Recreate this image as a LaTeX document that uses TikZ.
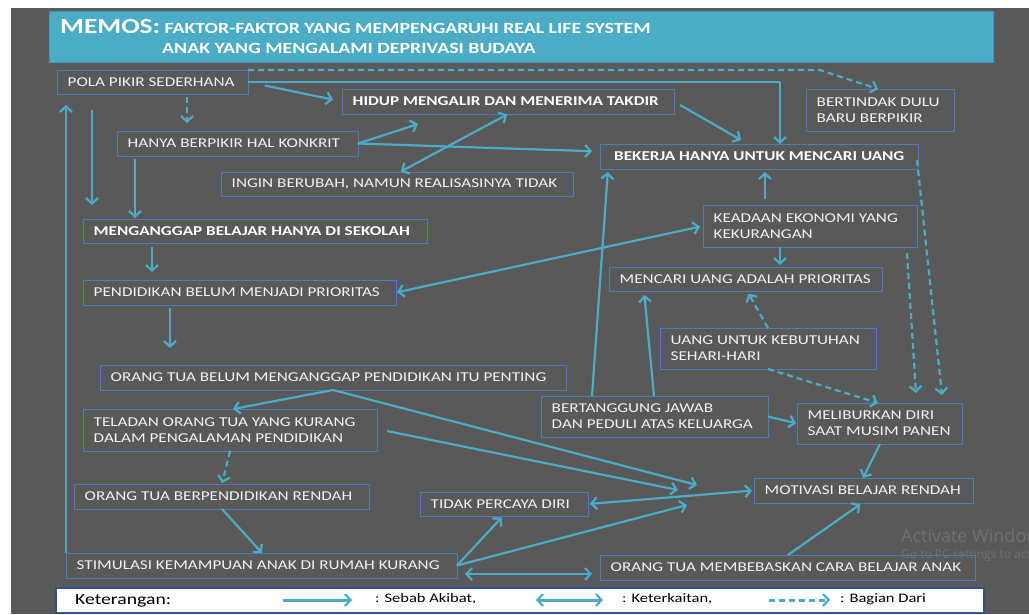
\documentclass[tikz,border=0pt]{standalone}
\usepackage{fontspec}
\setmainfont{Carlito}[FakeStretch=1.27]
\newfontfamily\wmfont{Open Sans}
\usetikzlibrary{arrows.meta,calc}

\definecolor{slate}{HTML}{595959}
\definecolor{aqua}{HTML}{4BACC6}
\definecolor{frame}{HTML}{4A7EBB}
\definecolor{ink}{HTML}{F2F2F2}
\definecolor{legendframe}{HTML}{2F528F}
\definecolor{ghost}{HTML}{717171}

\tikzset{
  boxframe/.style={draw=frame, line width=1pt, inner sep=0pt, outer sep=0pt},
  boxtext/.style={text=ink, inner sep=0pt, align=left,
    font=\fontsize{13.5}{16}\selectfont},
  boldtext/.style={boxtext, text=white,
    font=\fontsize{13.5}{16}\selectfont\bfseries},
  tipb/.tip={Straight Barb[length=5.5pt,width=12pt,line width=2.2pt]},
  link/.style={draw=aqua, line width=2.2pt, line join=round, -tipb},
  twoway/.style={draw=aqua, line width=2.2pt, line join=round, tipb-tipb},
  partof/.style={link, dash pattern=on 6pt off 4pt},
  legtext/.style={anchor=west, inner sep=0pt, text=black,
    font=\fontsize{13}{15}\selectfont},
}

% box: name, left, top, right, bottom, text style, text
\newcommand\memobox[7]{%
  \node[boxframe, minimum width={(#4)-(#2)}, minimum height={(#5)-(#3)},
        anchor=north west] (#1) at (#2,#3) {};
  \node[#6, anchor=west] (#1-t) at ([xshift=10.5pt]#1.west) {#7};}

\begin{document}
\begin{tikzpicture}[x=1pt,y=-1pt]
\useasboundingbox (0,0) rectangle (1029,614);
\fill[white] (0,0) rectangle (1029,614);
\fill[slate] (11,8) rectangle (1029,614);

% heading bar
\node[draw=frame!60!aqua, line width=1pt, fill=aqua, inner sep=0pt,
      minimum width=944pt, minimum height=51pt, anchor=north west]
      (title) at (49,11) {};
\node[anchor=base west, inner sep=0pt, text=white] (title-a) at (60,33)
  {\fontsize{21.5}{22}\selectfont\bfseries MEMOS:\fontsize{15.6}{17}\selectfont\ FAKTOR-FAKTOR YANG MEMPENGARUHI REAL LIFE SYSTEM};
\node[anchor=base west, inner sep=0pt, text=white] (title-b) at (162,53)
  {\fontsize{15.6}{17}\selectfont\bfseries ANAK YANG MENGALAMI DEPRIVASI BUDAYA};

% boxes
\memobox{pola}{57}{70}{248}{94}{boxtext}{POLA PIKIR SEDERHANA}
\memobox{hidup}{342}{89}{674}{114}{boldtext}{HIDUP MENGALIR DAN MENERIMA TAKDIR}
\memobox{hanya}{117}{131}{358}{156}{boxtext}{HANYA BERPIKIR HAL KONKRIT}
\memobox{ingin}{221}{172}{573}{196}{boxtext}{INGIN BERUBAH, NAMUN REALISASINYA TIDAK}
\memobox{bekerja}{600}{144}{918}{169}{boldtext, xshift=3.5pt}{BEKERJA HANYA UNTUK  MENCARI UANG}
\memobox{bertindak}{806}{89}{954}{131}{boxtext}{BERTINDAK DULU\\BARU BERPIKIR}
\memobox{anggap}{83}{219}{427}{243}{boldtext}{MENGANGGAP BELAJAR HANYA DI SEKOLAH}
\memobox{prioritas}{83}{280}{396}{305}{boxtext}{PENDIDIKAN BELUM MENJADI PRIORITAS}
\memobox{otbelum}{100}{365}{566}{390}{boxtext}{ORANG TUA BELUM MENGANGGAP PENDIDIKAN ITU PENTING}
\memobox{ekonomi}{703}{205}{917}{247}{boxtext}{KEADAAN EKONOMI  YANG\\KEKURANGAN}
\memobox{uangprio}{609}{267}{882}{291}{boxtext}{MENCARI UANG ADALAH PRIORITAS}
\memobox{harian}{660}{328}{876}{369}{boxtext}{UANG UNTUK KEBUTUHAN\\SEHARI-HARI}
\memobox{jawab}{541}{396}{768}{437}{boxtext}{BERTANGGUNG JAWAB\\DAN PEDULI ATAS KELUARGA}
\memobox{libur}{797}{403}{962}{444}{boxtext}{MELIBURKAN DIRI\\SAAT MUSIM PANEN}
\memobox{motivasi}{754}{478}{973}{503}{boxtext}{MOTIVASI BELAJAR RENDAH}
\memobox{percaya}{420}{492}{588}{516}{boxtext}{TIDAK PERCAYA DIRI}
\memobox{bebas}{600}{555}{975}{580}{boxtext}{ORANG TUA MEMBEBASKAN CARA BELAJAR ANAK}
\memobox{teladan}{83}{409}{377}{451}{boxtext}{TELADAN ORANG TUA YANG KURANG\\DALAM PENGALAMAN PENDIDIKAN}
\memobox{rendah}{74}{484}{369}{509}{boxtext}{ORANG TUA BERPENDIDIKAN  RENDAH}
\memobox{stimulasi}{66}{553}{457}{578}{boxtext}{STIMULASI KEMAMPUAN ANAK DI RUMAH KURANG}

% connectors: top group
\draw[link, shorten <=17pt, shorten >=9pt] (pola.east) -- (hidup.west);
\draw[link] (pola.east) -| ([xshift=21pt]bekerja.north);
\draw[partof] (pola.north east) -- ($(pola.north east -| bertindak.north)+(-60,0)$)
  -- ([xshift=-2pt]bertindak.north);
\draw[partof, shorten <=3pt, shorten >=8pt] ([xshift=34.5pt]pola.south) -- ([xshift=-50.5pt]hanya.north);
\draw[link, shorten >=11pt] (stimulasi.north west) -- ([xshift=9pt]pola.south west);
\draw[link, shorten <=16pt, shorten >=14pt] ([xshift=35pt]pola.south west) -- ([xshift=9pt]anggap.north west);
\draw[link, shorten <=3pt, shorten >=1pt] ([xshift=18pt]hanya.south west) -- ([xshift=52pt]anggap.north west);
\draw[link] (hanya.east) -- ($(hidup.south west)+(76,10)$);
\draw[link, shorten >=8pt] (hanya.east) -- ($(bekerja.west)+(0,-5)$);
\draw[twoway, shorten <=1pt, shorten >=1pt] ([xshift=179pt]ingin.north west) -- ([xshift=166pt]hidup.south west);
\draw[link, shorten <=7pt, shorten >=8pt] (hidup.east) -- ([xshift=148pt]bekerja.north west);
\draw[link, shorten <=6pt, shorten >=3pt] ([xshift=62pt]ekonomi.north west) -- ([xshift=165pt]bekerja.south west);
\draw[link, shorten >=3pt] ([xshift=51pt]jawab.north west) -- ([xshift=8pt]bekerja.south west);
\draw[link, shorten >=4pt] ([xshift=113pt]jawab.north west) -- ([xshift=35pt]uangprio.south west);
\draw[partof, shorten >=3pt] ([xshift=108pt]harian.north west) -- ([xshift=138pt]uangprio.south west);
\draw[link, shorten >=2pt] ([xshift=77pt]ekonomi.south west) -- ([xshift=171pt]uangprio.north west);
\draw[twoway, shorten <=1pt, shorten >=3pt] (prioritas.east) -- (ekonomi.west);

% connectors: left column
\draw[link, shorten <=4pt, shorten >=8pt] ([xshift=69pt]anggap.south west) -- ([xshift=69pt]prioritas.north west);
\draw[link, shorten <=3pt, shorten >=17pt] ([xshift=87pt]prioritas.south west) -- ([xshift=70pt]otbelum.north west);
\draw[link] ([xshift=233pt]otbelum.south west) -- ([xshift=150pt]teladan.north west);
\draw[link] ([xshift=233pt]otbelum.south west) -- ($(motivasi.south west)+(-57,-18)$);
\draw[link] ($(teladan.east)+(10,1)$) -- ($(motivasi.south west)+(-76,-13)$);
\draw[partof, shorten >=1pt] ([xshift=147pt]teladan.south west) -- ([xshift=148pt]rendah.north west);
\draw[link] ([xshift=148pt]rendah.south west) -- ([xshift=196pt]stimulasi.north west);

% connectors: bottom group
\draw[link, shorten >=2pt] (stimulasi.east) -- ([xshift=83pt]percaya.south west);
\draw[link] (stimulasi.east) -- ($(motivasi.south west)+(-67,2)$);
\draw[twoway] ($(stimulasi.south east)+(8,-4)$) -- ($(bebas.south west)+(-8,-6)$);
\draw[twoway, shorten <=2pt, shorten >=2pt] (percaya.east) -- (motivasi.west);
\draw[link, shorten >=2pt] ([xshift=188pt]bebas.north west) -- ([xshift=108pt]motivasi.south west);
\draw[link] ([xshift=83pt]libur.south west) -- ([xshift=109pt]motivasi.north west);
\draw[link, shorten >=1pt] (jawab.east) -- (libur.west);
\draw[partof] ([xshift=108pt]harian.south west) -- ([xshift=81pt]libur.north west);
\draw[partof] ($(bekerja.south east)+(-1,-9)$) -- ($(libur.north east)+(-20,-8)$);
\draw[partof] ($(ekonomi.south east)+(-10,6)$) -- ($(libur.north west)+(119,-10)$);

% key
\node[draw=legendframe, line width=1.5pt, fill=white, inner sep=0pt,
      minimum width=928pt, minimum height=25pt, anchor=north west]
      (legend) at (55,587) {};
\node[legtext, font=\fontsize{15.5}{17}\selectfont] (leg-k) at (75,601) {Keterangan:};
\coordinate (la1) at (283,600); \coordinate (la2) at (352,600);
\draw[link, line width=3pt] (la1) -- (la2);
\node[legtext] (leg-s) at (375,599) {: Sebab Akibat,};
\coordinate (lb1) at (536,600); \coordinate (lb2) at (603,600);
\draw[twoway, line width=3pt] (lb1) -- (lb2);
\node[legtext] (leg-t) at (622,599) {: Keterkaitan,};
\coordinate (lc1) at (769,600); \coordinate (lc2) at (830,600);
\draw[partof, line width=3pt] (lc1) -- (lc2);
\node[legtext] (leg-b) at (840,599) {: Bagian Dari};

% system watermark at the lower right, running off the edge
\begin{scope}
\clip (0,0) rectangle (1029,614);
\node[anchor=base west, inner sep=0pt, text=ghost, font=\wmfont\fontsize{18}{20}\selectfont] (wm-a) at (901,542) {Activate Windows};
\node[anchor=base west, inner sep=0pt, text=ghost, font=\wmfont\fontsize{12}{13}\selectfont] (wm-b) at (901,558) {Go to PC settings to activate Windows.};
\end{scope}
\end{tikzpicture}
\end{document}
